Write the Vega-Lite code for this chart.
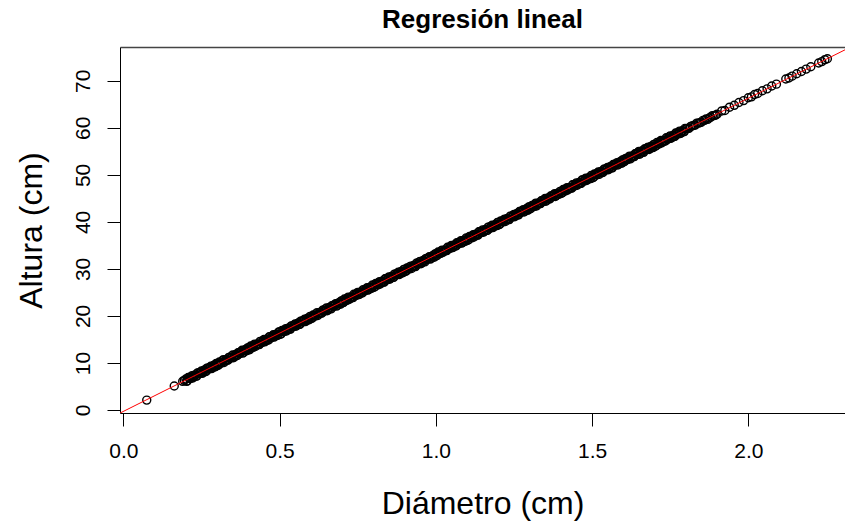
{
"$schema": "https://vega.github.io/schema/vega-lite/v6.json",
"width": 725, "height": 366,
"autosize": {"type": "none"},
"padding": {"left": 120, "top": 47, "right": 0, "bottom": 110},
"background": "white",
"config": {"view": {"stroke": null}, "font": "Liberation Sans"},
"title": {"text": "Regresión lineal", "fontSize": 26, "fontWeight": "bold", "font": "Liberation Sans", "color": "black", "anchor": "middle", "offset": 14},
"resolve": {"axis": {"x": "independent"}},
"layer": [
{"data": {"values": [
{"x":0.075,"y":2.1},{"x":0.163,"y":5.1},{"x":0.19,"y":6.1},{"x":0.195,"y":6.3},
{"x":0.2,"y":6.6},{"x":0.205,"y":6.2},{"x":0.21,"y":6.8},{"x":0.215,"y":6.7},{"x":0.22,"y":7.3},{"x":0.225,"y":7.1},{"x":0.23,"y":7.4},{"x":0.235,"y":7.2},{"x":0.24,"y":7.9},{"x":0.245,"y":7.8},{"x":0.25,"y":8.3},{"x":0.255,"y":8.0},{"x":0.26,"y":8.5},{"x":0.265,"y":8.2},{"x":0.27,"y":8.9},{"x":0.275,"y":8.9},{"x":0.28,"y":9.3},{"x":0.285,"y":9.0},{"x":0.29,"y":9.5},{"x":0.295,"y":9.2},
{"x":0.3,"y":9.9},{"x":0.305,"y":9.6},{"x":0.31,"y":10.1},{"x":0.315,"y":10.0},{"x":0.32,"y":10.7},{"x":0.325,"y":10.4},{"x":0.33,"y":10.7},{"x":0.335,"y":10.6},{"x":0.34,"y":11.2},{"x":0.345,"y":11.1},{"x":0.35,"y":11.7},{"x":0.355,"y":11.3},{"x":0.36,"y":11.8},{"x":0.365,"y":11.6},{"x":0.37,"y":12.2},{"x":0.375,"y":12.2},{"x":0.38,"y":12.7},{"x":0.385,"y":12.3},{"x":0.39,"y":12.8},{"x":0.395,"y":12.6},
{"x":0.4,"y":13.2},{"x":0.405,"y":12.9},{"x":0.41,"y":13.5},{"x":0.415,"y":13.3},{"x":0.42,"y":14.0},{"x":0.425,"y":13.8},{"x":0.43,"y":14.0},{"x":0.435,"y":13.9},{"x":0.44,"y":14.6},{"x":0.445,"y":14.4},{"x":0.45,"y":15.0},{"x":0.455,"y":14.7},{"x":0.46,"y":15.1},{"x":0.465,"y":14.9},{"x":0.47,"y":15.6},{"x":0.475,"y":15.5},{"x":0.48,"y":16.0},{"x":0.485,"y":15.7},{"x":0.49,"y":16.1},{"x":0.495,"y":15.9},
{"x":0.5,"y":16.6},{"x":0.505,"y":16.2},{"x":0.51,"y":16.8},{"x":0.515,"y":16.7},{"x":0.52,"y":17.3},{"x":0.525,"y":17.1},{"x":0.53,"y":17.4},{"x":0.535,"y":17.2},{"x":0.54,"y":17.9},{"x":0.545,"y":17.8},{"x":0.55,"y":18.3},{"x":0.555,"y":18.0},{"x":0.56,"y":18.5},{"x":0.565,"y":18.2},{"x":0.57,"y":18.9},{"x":0.575,"y":18.9},{"x":0.58,"y":19.3},{"x":0.585,"y":19.0},{"x":0.59,"y":19.5},{"x":0.595,"y":19.2},
{"x":0.6,"y":19.9},{"x":0.605,"y":19.6},{"x":0.61,"y":20.1},{"x":0.615,"y":20.0},{"x":0.62,"y":20.7},{"x":0.625,"y":20.4},{"x":0.63,"y":20.7},{"x":0.635,"y":20.6},{"x":0.64,"y":21.2},{"x":0.645,"y":21.1},{"x":0.65,"y":21.7},{"x":0.655,"y":21.3},{"x":0.66,"y":21.8},{"x":0.665,"y":21.5},{"x":0.67,"y":22.2},{"x":0.675,"y":22.2},{"x":0.68,"y":22.6},{"x":0.685,"y":22.3},{"x":0.69,"y":22.8},{"x":0.695,"y":22.5},
{"x":0.7,"y":23.2},{"x":0.705,"y":22.9},{"x":0.71,"y":23.4},{"x":0.715,"y":23.3},{"x":0.72,"y":24.0},{"x":0.725,"y":23.7},{"x":0.73,"y":24.0},{"x":0.735,"y":23.9},{"x":0.74,"y":24.5},{"x":0.745,"y":24.4},{"x":0.75,"y":25.0},{"x":0.755,"y":24.6},{"x":0.76,"y":25.1},{"x":0.765,"y":24.9},{"x":0.77,"y":25.5},{"x":0.775,"y":25.5},{"x":0.78,"y":26.0},{"x":0.785,"y":25.6},{"x":0.79,"y":26.1},{"x":0.795,"y":25.9},
{"x":0.8,"y":26.5},{"x":0.805,"y":26.2},{"x":0.81,"y":26.8},{"x":0.815,"y":26.6},{"x":0.82,"y":27.3},{"x":0.825,"y":27.1},{"x":0.83,"y":27.3},{"x":0.835,"y":27.2},{"x":0.84,"y":27.9},{"x":0.845,"y":27.7},{"x":0.85,"y":28.3},{"x":0.855,"y":28.0},{"x":0.86,"y":28.4},{"x":0.865,"y":28.2},{"x":0.87,"y":28.9},{"x":0.875,"y":28.8},{"x":0.88,"y":29.3},{"x":0.885,"y":29.0},{"x":0.89,"y":29.4},{"x":0.895,"y":29.2},
{"x":0.9,"y":29.9},{"x":0.905,"y":29.5},{"x":0.91,"y":30.1},{"x":0.915,"y":30.0},{"x":0.92,"y":30.6},{"x":0.925,"y":30.4},{"x":0.93,"y":30.7},{"x":0.935,"y":30.5},{"x":0.94,"y":31.2},{"x":0.945,"y":31.1},{"x":0.95,"y":31.6},{"x":0.955,"y":31.3},{"x":0.96,"y":31.8},{"x":0.965,"y":31.5},{"x":0.97,"y":32.2},{"x":0.975,"y":32.2},{"x":0.98,"y":32.6},{"x":0.985,"y":32.3},{"x":0.99,"y":32.8},{"x":0.995,"y":32.5},
{"x":1.0,"y":33.2},{"x":1.005,"y":32.9},{"x":1.01,"y":33.4},{"x":1.015,"y":33.3},{"x":1.02,"y":34.0},{"x":1.025,"y":33.7},{"x":1.03,"y":34.0},{"x":1.035,"y":33.9},{"x":1.04,"y":34.5},{"x":1.045,"y":34.4},{"x":1.05,"y":35.0},{"x":1.055,"y":34.6},{"x":1.06,"y":35.1},{"x":1.065,"y":34.9},{"x":1.07,"y":35.5},{"x":1.075,"y":35.5},{"x":1.08,"y":36.0},{"x":1.085,"y":35.6},{"x":1.09,"y":36.1},{"x":1.095,"y":35.9},
{"x":1.1,"y":36.5},{"x":1.105,"y":36.2},{"x":1.11,"y":36.8},{"x":1.115,"y":36.6},{"x":1.12,"y":37.3},{"x":1.125,"y":37.1},{"x":1.13,"y":37.3},{"x":1.135,"y":37.2},{"x":1.14,"y":37.9},{"x":1.145,"y":37.7},{"x":1.15,"y":38.3},{"x":1.155,"y":38.0},{"x":1.16,"y":38.4},{"x":1.165,"y":38.2},{"x":1.17,"y":38.9},{"x":1.175,"y":38.8},{"x":1.18,"y":39.3},{"x":1.185,"y":39.0},{"x":1.19,"y":39.4},{"x":1.195,"y":39.2},
{"x":1.2,"y":39.9},{"x":1.205,"y":39.5},{"x":1.21,"y":40.1},{"x":1.215,"y":40.0},{"x":1.22,"y":40.6},{"x":1.225,"y":40.4},{"x":1.23,"y":40.7},{"x":1.235,"y":40.5},{"x":1.24,"y":41.2},{"x":1.245,"y":41.1},{"x":1.25,"y":41.6},{"x":1.255,"y":41.3},{"x":1.26,"y":41.8},{"x":1.265,"y":41.5},{"x":1.27,"y":42.2},{"x":1.275,"y":42.2},{"x":1.28,"y":42.6},{"x":1.285,"y":42.3},{"x":1.29,"y":42.8},{"x":1.295,"y":42.5},
{"x":1.3,"y":43.2},{"x":1.305,"y":42.9},{"x":1.31,"y":43.4},{"x":1.315,"y":43.3},{"x":1.32,"y":44.0},{"x":1.325,"y":43.7},{"x":1.33,"y":44.0},{"x":1.335,"y":43.9},{"x":1.34,"y":44.5},{"x":1.345,"y":44.4},{"x":1.35,"y":45.0},{"x":1.355,"y":44.6},{"x":1.36,"y":45.1},{"x":1.365,"y":44.9},{"x":1.37,"y":45.5},{"x":1.375,"y":45.5},{"x":1.38,"y":46.0},{"x":1.385,"y":45.6},{"x":1.39,"y":46.1},{"x":1.395,"y":45.9},
{"x":1.4,"y":46.5},{"x":1.405,"y":46.2},{"x":1.41,"y":46.8},{"x":1.415,"y":46.6},{"x":1.42,"y":47.3},{"x":1.425,"y":47.1},{"x":1.43,"y":47.3},{"x":1.435,"y":47.2},{"x":1.44,"y":47.9},{"x":1.445,"y":47.7},{"x":1.45,"y":48.3},{"x":1.455,"y":48.0},{"x":1.46,"y":48.4},{"x":1.465,"y":48.2},{"x":1.47,"y":48.9},{"x":1.475,"y":48.8},{"x":1.48,"y":49.3},{"x":1.485,"y":49.0},{"x":1.49,"y":49.4},{"x":1.495,"y":49.2},
{"x":1.5,"y":49.9},{"x":1.505,"y":49.5},{"x":1.51,"y":50.1},{"x":1.515,"y":50.0},{"x":1.52,"y":50.6},{"x":1.525,"y":50.4},{"x":1.53,"y":50.7},{"x":1.535,"y":50.5},{"x":1.54,"y":51.2},{"x":1.545,"y":51.1},{"x":1.55,"y":51.6},{"x":1.555,"y":51.3},{"x":1.56,"y":51.8},{"x":1.565,"y":51.5},{"x":1.57,"y":52.2},{"x":1.575,"y":52.2},{"x":1.58,"y":52.6},{"x":1.585,"y":52.3},{"x":1.59,"y":52.8},{"x":1.595,"y":52.5},
{"x":1.6,"y":53.2},{"x":1.605,"y":52.9},{"x":1.61,"y":53.4},{"x":1.615,"y":53.3},{"x":1.62,"y":54.0},{"x":1.625,"y":53.7},{"x":1.63,"y":54.0},{"x":1.635,"y":53.9},{"x":1.64,"y":54.5},{"x":1.645,"y":54.4},{"x":1.65,"y":55.0},{"x":1.655,"y":54.6},{"x":1.66,"y":55.1},{"x":1.665,"y":54.8},{"x":1.67,"y":55.5},{"x":1.675,"y":55.5},{"x":1.68,"y":55.9},{"x":1.685,"y":55.6},{"x":1.69,"y":56.1},{"x":1.695,"y":55.8},
{"x":1.7,"y":56.5},{"x":1.705,"y":56.2},{"x":1.71,"y":56.7},{"x":1.715,"y":56.6},{"x":1.72,"y":57.3},{"x":1.725,"y":57.0},{"x":1.73,"y":57.3},{"x":1.735,"y":57.2},{"x":1.74,"y":57.8},{"x":1.745,"y":57.7},{"x":1.75,"y":58.3},{"x":1.755,"y":57.9},{"x":1.76,"y":58.4},{"x":1.765,"y":58.2},{"x":1.77,"y":58.8},{"x":1.775,"y":58.8},{"x":1.78,"y":59.3},{"x":1.785,"y":58.9},{"x":1.79,"y":59.4},{"x":1.795,"y":59.2},
{"x":1.8,"y":59.8},{"x":1.81,"y":59.9},{"x":1.82,"y":60.4},{"x":1.83,"y":60.6},{"x":1.84,"y":61.0},{"x":1.85,"y":61.2},{"x":1.86,"y":61.6},{"x":1.87,"y":61.8},{"x":1.88,"y":62.3},{"x":1.89,"y":62.6},{"x":1.9,"y":62.9},{"x":1.915,"y":63.6},{"x":1.925,"y":63.7},{"x":1.94,"y":64.4},{"x":1.955,"y":64.8},{"x":1.97,"y":65.4},{"x":1.985,"y":65.8},
{"x":2.0,"y":66.4},{"x":2.01,"y":66.6},{"x":2.02,"y":67.1},{"x":2.03,"y":67.3},{"x":2.045,"y":67.9},{"x":2.06,"y":68.3},{"x":2.075,"y":68.9},{"x":2.09,"y":69.3},
{"x":2.12,"y":70.4},{"x":2.13,"y":70.6},{"x":2.14,"y":71.0},{"x":2.155,"y":71.5},{"x":2.17,"y":72.0},{"x":2.185,"y":72.5},{"x":2.2,"y":73.0},{"x":2.225,"y":73.8},{"x":2.235,"y":74.1},{"x":2.245,"y":74.5},{"x":2.253,"y":74.7},
{"x":0.2025,"y":6.1},{"x":0.2075,"y":6.9},{"x":0.2125,"y":6.7},{"x":0.2175,"y":7.1},{"x":0.2225,"y":6.8},{"x":0.2275,"y":7.4},{"x":0.2325,"y":7.2},{"x":0.2375,"y":7.9},{"x":0.2425,"y":7.7},{"x":0.2475,"y":8.1},{"x":0.2525,"y":7.8},{"x":0.2575,"y":8.4},{"x":0.2625,"y":8.2},{"x":0.2675,"y":8.9},{"x":0.2725,"y":8.7},{"x":0.2775,"y":9.1},{"x":0.2825,"y":8.8},{"x":0.2875,"y":9.4},{"x":0.2925,"y":9.2},{"x":0.2975,"y":9.9},
{"x":0.3025,"y":9.5},{"x":0.3075,"y":10.2},{"x":0.3125,"y":10.0},{"x":0.3175,"y":10.5},{"x":0.3225,"y":10.1},{"x":0.3275,"y":10.7},{"x":0.3325,"y":10.6},{"x":0.3375,"y":11.2},{"x":0.3425,"y":11.0},{"x":0.3475,"y":11.5},{"x":0.3525,"y":11.1},{"x":0.3575,"y":11.7},{"x":0.3625,"y":11.6},{"x":0.3675,"y":12.2},{"x":0.3725,"y":12.0},{"x":0.3775,"y":12.5},{"x":0.3825,"y":12.1},{"x":0.3875,"y":12.7},{"x":0.3925,"y":12.6},{"x":0.3975,"y":13.2},
{"x":0.4025,"y":12.8},{"x":0.4075,"y":13.6},{"x":0.4125,"y":13.3},{"x":0.4175,"y":13.8},{"x":0.4225,"y":13.5},{"x":0.4275,"y":14.0},{"x":0.4325,"y":13.9},{"x":0.4375,"y":14.6},{"x":0.4425,"y":14.3},{"x":0.4475,"y":14.8},{"x":0.4525,"y":14.5},{"x":0.4575,"y":15.0},{"x":0.4625,"y":14.9},{"x":0.4675,"y":15.6},{"x":0.4725,"y":15.3},{"x":0.4775,"y":15.8},{"x":0.4825,"y":15.5},{"x":0.4875,"y":16.0},{"x":0.4925,"y":15.9},{"x":0.4975,"y":16.6},
{"x":0.5025,"y":16.1},{"x":0.5075,"y":16.9},{"x":0.5125,"y":16.7},{"x":0.5175,"y":17.1},{"x":0.5225,"y":16.8},{"x":0.5275,"y":17.4},{"x":0.5325,"y":17.2},{"x":0.5375,"y":17.9},{"x":0.5425,"y":17.7},{"x":0.5475,"y":18.1},{"x":0.5525,"y":17.8},{"x":0.5575,"y":18.4},{"x":0.5625,"y":18.2},{"x":0.5675,"y":18.9},{"x":0.5725,"y":18.7},{"x":0.5775,"y":19.1},{"x":0.5825,"y":18.8},{"x":0.5875,"y":19.4},{"x":0.5925,"y":19.2},{"x":0.5975,"y":19.9},
{"x":0.6025,"y":19.5},{"x":0.6075,"y":20.2},{"x":0.6125,"y":20.0},{"x":0.6175,"y":20.5},{"x":0.6225,"y":20.1},{"x":0.6275,"y":20.7},{"x":0.6325,"y":20.6},{"x":0.6375,"y":21.2},{"x":0.6425,"y":21.0},{"x":0.6475,"y":21.5},{"x":0.6525,"y":21.1},{"x":0.6575,"y":21.7},{"x":0.6625,"y":21.6},{"x":0.6675,"y":22.2},{"x":0.6725,"y":22.0},{"x":0.6775,"y":22.5},{"x":0.6825,"y":22.1},{"x":0.6875,"y":22.7},{"x":0.6925,"y":22.6},{"x":0.6975,"y":23.2},
{"x":0.7025,"y":22.8},{"x":0.7075,"y":23.6},{"x":0.7125,"y":23.3},{"x":0.7175,"y":23.8},{"x":0.7225,"y":23.5},{"x":0.7275,"y":24.0},{"x":0.7325,"y":23.9},{"x":0.7375,"y":24.6},{"x":0.7425,"y":24.3},{"x":0.7475,"y":24.8},{"x":0.7525,"y":24.5},{"x":0.7575,"y":25.0},{"x":0.7625,"y":24.9},{"x":0.7675,"y":25.6},{"x":0.7725,"y":25.3},{"x":0.7775,"y":25.8},{"x":0.7825,"y":25.5},{"x":0.7875,"y":26.0},{"x":0.7925,"y":25.9},{"x":0.7975,"y":26.6},
{"x":0.8025,"y":26.1},{"x":0.8075,"y":26.9},{"x":0.8125,"y":26.7},{"x":0.8175,"y":27.1},{"x":0.8225,"y":26.8},{"x":0.8275,"y":27.4},{"x":0.8325,"y":27.2},{"x":0.8375,"y":27.9},{"x":0.8425,"y":27.7},{"x":0.8475,"y":28.1},{"x":0.8525,"y":27.8},{"x":0.8575,"y":28.4},{"x":0.8625,"y":28.2},{"x":0.8675,"y":28.9},{"x":0.8725,"y":28.7},{"x":0.8775,"y":29.1},{"x":0.8825,"y":28.8},{"x":0.8875,"y":29.4},{"x":0.8925,"y":29.2},{"x":0.8975,"y":29.9},
{"x":0.9025,"y":29.5},{"x":0.9075,"y":30.2},{"x":0.9125,"y":30.0},{"x":0.9175,"y":30.5},{"x":0.9225,"y":30.1},{"x":0.9275,"y":30.7},{"x":0.9325,"y":30.6},{"x":0.9375,"y":31.2},{"x":0.9425,"y":31.0},{"x":0.9475,"y":31.5},{"x":0.9525,"y":31.1},{"x":0.9575,"y":31.7},{"x":0.9625,"y":31.6},{"x":0.9675,"y":32.2},{"x":0.9725,"y":32.0},{"x":0.9775,"y":32.5},{"x":0.9825,"y":32.1},{"x":0.9875,"y":32.7},{"x":0.9925,"y":32.6},{"x":0.9975,"y":33.2},
{"x":1.0025,"y":32.8},{"x":1.0075,"y":33.6},{"x":1.0125,"y":33.3},{"x":1.0175,"y":33.8},{"x":1.0225,"y":33.5},{"x":1.0275,"y":34.0},{"x":1.0325,"y":33.9},{"x":1.0375,"y":34.6},{"x":1.0425,"y":34.3},{"x":1.0475,"y":34.8},{"x":1.0525,"y":34.5},{"x":1.0575,"y":35.0},{"x":1.0625,"y":34.9},{"x":1.0675,"y":35.6},{"x":1.0725,"y":35.3},{"x":1.0775,"y":35.8},{"x":1.0825,"y":35.5},{"x":1.0875,"y":36.0},{"x":1.0925,"y":35.9},{"x":1.0975,"y":36.6},
{"x":1.1025,"y":36.1},{"x":1.1075,"y":36.9},{"x":1.1125,"y":36.7},{"x":1.1175,"y":37.1},{"x":1.1225,"y":36.8},{"x":1.1275,"y":37.4},{"x":1.1325,"y":37.2},{"x":1.1375,"y":37.9},{"x":1.1425,"y":37.7},{"x":1.1475,"y":38.1},{"x":1.1525,"y":37.8},{"x":1.1575,"y":38.3},{"x":1.1625,"y":38.2},{"x":1.1675,"y":38.9},{"x":1.1725,"y":38.6},{"x":1.1775,"y":39.1},{"x":1.1825,"y":38.8},{"x":1.1875,"y":39.3},{"x":1.1925,"y":39.2},{"x":1.1975,"y":39.9},
{"x":1.2025,"y":39.4},{"x":1.2075,"y":40.2},{"x":1.2125,"y":40.0},{"x":1.2175,"y":40.4},{"x":1.2225,"y":40.1},{"x":1.2275,"y":40.7},{"x":1.2325,"y":40.5},{"x":1.2375,"y":41.2},{"x":1.2425,"y":41.0},{"x":1.2475,"y":41.4},{"x":1.2525,"y":41.1},{"x":1.2575,"y":41.7},{"x":1.2625,"y":41.5},{"x":1.2675,"y":42.2},{"x":1.2725,"y":42.0},{"x":1.2775,"y":42.4},{"x":1.2825,"y":42.1},{"x":1.2875,"y":42.7},{"x":1.2925,"y":42.5},{"x":1.2975,"y":43.2},
{"x":1.3025,"y":42.8},{"x":1.3075,"y":43.5},{"x":1.3125,"y":43.3},{"x":1.3175,"y":43.8},{"x":1.3225,"y":43.4},{"x":1.3275,"y":44.0},{"x":1.3325,"y":43.9},{"x":1.3375,"y":44.5},{"x":1.3425,"y":44.3},{"x":1.3475,"y":44.8},{"x":1.3525,"y":44.4},{"x":1.3575,"y":45.0},{"x":1.3625,"y":44.9},{"x":1.3675,"y":45.5},{"x":1.3725,"y":45.3},{"x":1.3775,"y":45.8},{"x":1.3825,"y":45.4},{"x":1.3875,"y":46.0},{"x":1.3925,"y":45.9},{"x":1.3975,"y":46.5},
{"x":1.4025,"y":46.1},{"x":1.4075,"y":46.9},{"x":1.4125,"y":46.6},{"x":1.4175,"y":47.1},{"x":1.4225,"y":46.8},{"x":1.4275,"y":47.3},{"x":1.4325,"y":47.2},{"x":1.4375,"y":47.9},{"x":1.4425,"y":47.6},{"x":1.4475,"y":48.1},{"x":1.4525,"y":47.8},{"x":1.4575,"y":48.3},{"x":1.4625,"y":48.2},{"x":1.4675,"y":48.9},{"x":1.4725,"y":48.6},{"x":1.4775,"y":49.1},{"x":1.4825,"y":48.8},{"x":1.4875,"y":49.3},{"x":1.4925,"y":49.2},{"x":1.4975,"y":49.9},
{"x":1.5025,"y":49.4},{"x":1.5075,"y":50.2},{"x":1.5125,"y":50.0},{"x":1.5175,"y":50.4},{"x":1.5225,"y":50.1},{"x":1.5275,"y":50.7},{"x":1.5325,"y":50.5},{"x":1.5375,"y":51.2},{"x":1.5425,"y":51.0},{"x":1.5475,"y":51.4},{"x":1.5525,"y":51.1},{"x":1.5575,"y":51.7},{"x":1.5625,"y":51.5},{"x":1.5675,"y":52.2},{"x":1.5725,"y":52.0},{"x":1.5775,"y":52.4},{"x":1.5825,"y":52.1},{"x":1.5875,"y":52.7},{"x":1.5925,"y":52.5},{"x":1.5975,"y":53.2},
{"x":1.6025,"y":52.8},{"x":1.6075,"y":53.5},{"x":1.6125,"y":53.3},{"x":1.6175,"y":53.8},{"x":1.6225,"y":53.4},{"x":1.6275,"y":54.0},{"x":1.6325,"y":53.9},{"x":1.6375,"y":54.5},{"x":1.6425,"y":54.3},{"x":1.6475,"y":54.8},{"x":1.6525,"y":54.4},{"x":1.6575,"y":55.0},{"x":1.6625,"y":54.9},{"x":1.6675,"y":55.5},{"x":1.6725,"y":55.3},{"x":1.6775,"y":55.8},{"x":1.6825,"y":55.4},{"x":1.6875,"y":56.0},{"x":1.6925,"y":55.9},{"x":1.6975,"y":56.5},
{"x":1.7025,"y":56.1},{"x":1.7075,"y":56.9},{"x":1.7125,"y":56.6},{"x":1.7175,"y":57.1},{"x":1.7225,"y":56.8},{"x":1.7275,"y":57.3},{"x":1.7325,"y":57.2},{"x":1.7375,"y":57.9},{"x":1.7425,"y":57.6},{"x":1.7475,"y":58.1},{"x":1.7525,"y":57.8},{"x":1.7575,"y":58.3},{"x":1.7625,"y":58.2},{"x":1.7675,"y":58.9},{"x":1.7725,"y":58.6},{"x":1.7775,"y":59.1},{"x":1.7825,"y":58.8},{"x":1.7875,"y":59.3},{"x":1.7925,"y":59.2},{"x":1.7975,"y":59.9},
{"x":1.805,"y":59.9},{"x":1.815,"y":60.3},{"x":1.825,"y":60.5},{"x":1.835,"y":61.0},{"x":1.845,"y":61.1},{"x":1.855,"y":61.6},{"x":1.865,"y":61.9},{"x":1.875,"y":62.1},{"x":1.885,"y":62.6},{"x":1.895,"y":62.7}
]},
"mark": {"type": "point", "shape": "circle", "filled": false, "stroke": "black", "strokeWidth": 1.4, "size": 64, "opacity": 1, "clip": true},
"encoding": {
"x": {"field": "x", "type": "quantitative", "scale": {"domain": [-0.0106, 2.3094], "nice": false, "zero": false},
 "axis": {"orient": "bottom", "values": [0, 0.5, 1, 1.5, 2], "format": ".1f", "grid": false, "domainColor": "black", "domainWidth": 1, "tickColor": "black", "tickSize": 13, "tickWidth": 1, "labelFont": "Liberation Sans", "labelFontSize": 21, "labelColor": "black", "labelPadding": 14, "labelFlush": false, "labelOverlap": false, "title": "Diámetro (cm)", "titleFont": "Liberation Sans", "titleFontSize": 32, "titleFontWeight": "normal", "titleColor": "black", "titleBaseline": "alphabetic", "titleY": 100}},
"y": {"field": "y", "type": "quantitative", "scale": {"domain": [-0.64, 77.2], "nice": false, "zero": false},
 "axis": {"values": [0, 10, 20, 30, 40, 50, 60, 70], "grid": false, "domainColor": "black", "domainWidth": 1, "tickColor": "black", "tickSize": 13, "tickWidth": 1, "labelFont": "Liberation Sans", "labelFontSize": 21, "labelColor": "black", "labelAngle": 270, "labelAlign": "center", "labelBaseline": "bottom", "labelPadding": 14, "labelOverlap": false, "labelFlush": false, "title": "Altura (cm)", "titleFont": "Liberation Sans", "titleFontSize": 32, "titleFontWeight": "normal", "titleColor": "black", "titleAngle": 270, "titleAlign": "center", "titleBaseline": "alphabetic", "titleX": -79, "titleY": 183}}
}},
{"data": {"values": [{"x": -0.011, "y": -0.67}, {"x": 2.31, "y": 76.62}]},
"mark": {"type": "line", "color": "#ff0000", "strokeWidth": 1, "clip": true},
"encoding": {
"x": {"field": "x", "type": "quantitative", "axis": {"orient": "top", "ticks": false, "labels": false, "title": null, "grid": false, "domainColor": "#444", "domainWidth": 1.5}},
"y": {"field": "y", "type": "quantitative"}
}}
]
}
